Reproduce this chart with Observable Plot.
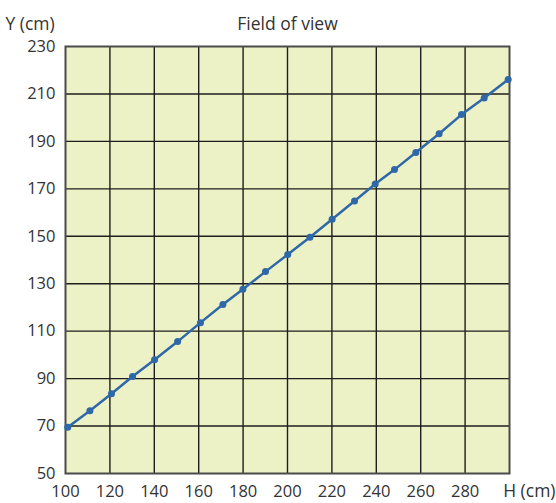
<!DOCTYPE html>
<html>
<head>
<meta charset="utf-8">
<script src="https://cdn.jsdelivr.net/npm/d3@7"></script>
<script src="https://cdn.jsdelivr.net/npm/@observablehq/plot@0.6"></script>
<style>
  html, body { margin: 0; padding: 0; background: #fff; }
  svg { display: block; }
</style>
</head>
<body>
<div id="chart"></div>
<script>
const H = [101, 111, 120.7, 130.2, 140.1, 150.5, 160.8, 170.9, 179.9, 190.1, 200.1, 210.1, 220.1, 230.2, 239.5, 248.2, 257.8, 268.3, 278.4, 288.6, 299.4];
const Y = [69.5, 76.5, 83.6, 90.9, 98, 105.6, 113.6, 121.2, 127.7, 135.1, 142.3, 149.6, 157.2, 164.9, 172, 178.1, 185.3, 193.2, 201.3, 208.3, 216.1];
const xTicks = [100, 120, 140, 160, 180, 200, 220, 240, 260, 280];
const yTicks = [50, 70, 90, 110, 130, 150, 170, 190, 210, 230];
const gridX = [120, 140, 160, 180, 200, 220, 240, 260, 280];
const gridY = [70, 90, 110, 130, 150, 170, 190, 210];
const title = "Field of view";
const yLabel = "Y (cm)";
const xLabel = "H (cm)";

const data = H.map((h, i) => ({h, y: Y[i]}));

const chart = Plot.plot({
  width: 556,
  height: 503,
  marginTop: 46,
  marginBottom: 30,
  marginLeft: 65,
  marginRight: 47,
  style: {fontFamily: "'Open Sans', sans-serif", fontSize: "16.5px", color: "#333", background: "#fff"},
  x: {domain: [100, 300], ticks: xTicks, tickSize: 0, tickPadding: 12, label: null},
  y: {domain: [50, 230], ticks: yTicks, tickSize: 0, tickPadding: 10, label: null},
  marks: [
    Plot.frame({fill: "#ecf1c6", stroke: null}),
    Plot.gridX(gridX, {stroke: "#1e1e1e", strokeOpacity: 1, strokeWidth: 1.4}),
    Plot.gridY(gridY, {stroke: "#1e1e1e", strokeOpacity: 1, strokeWidth: 1.4}),
    Plot.frame({stroke: "#4a4a4a", strokeWidth: 2}),
    Plot.line(data, {x: "h", y: "y", stroke: "#2f68a8", strokeWidth: 2.5}),
    Plot.dot(data, {x: "h", y: "y", fill: "#2f68a8", r: 3.5}),
    Plot.text([title], {frameAnchor: "top", dy: -29, fontSize: 17.5, fill: "#333"}),
    Plot.text([yLabel], {frameAnchor: "top-left", textAnchor: "start", dx: -60, dy: -29, fontSize: 17.5, fill: "#333"}),
    Plot.text([xLabel], {frameAnchor: "bottom-right", textAnchor: "end", dx: 46, dy: 23, fontSize: 17.5, fill: "#333"})
  ]
});
document.getElementById("chart").appendChild(chart);
</script>
</body>
</html>
